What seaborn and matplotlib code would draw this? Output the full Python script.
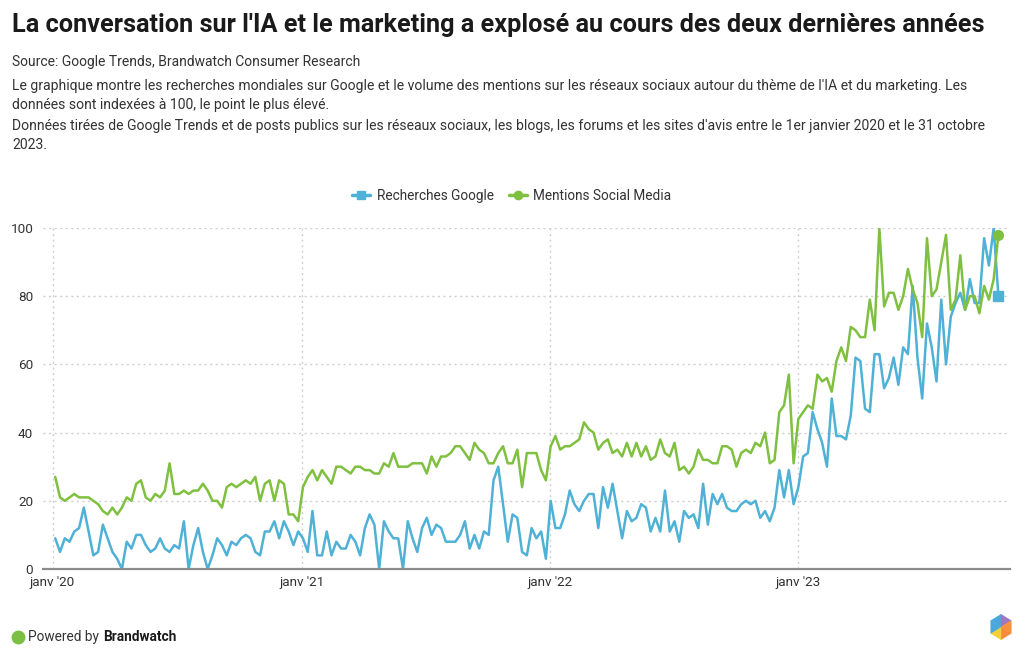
import pandas as pd
import numpy as np
import matplotlib
matplotlib.use('Agg')
import matplotlib.pyplot as plt
import matplotlib.dates as mdates
from matplotlib.patches import Polygon
import seaborn as sns

# weekly index values (jan 2020 -> oct 2023)
google_2020 = [9, 5, 9, 8, 11, 12, 18, 11, 4, 5, 13, 9, 5, 3, 0, 8, 6, 10, 10, 7,
               5, 6, 9, 6, 5, 7, 6, 14, 0, 7, 12, 5, 0, 4, 9, 7, 4, 8, 7, 9,
               10, 9, 5, 4, 11, 11, 14, 9, 14, 11, 7, 11]
google_2021 = [9, 5, 17, 4, 4, 11, 4, 8, 6, 6, 10, 8, 4, 12, 16, 13, 0, 14, 11, 9,
               9, 0, 14, 9, 5, 12, 15, 10, 13, 12, 8, 8, 8, 10, 14, 6, 10, 6, 11, 10,
               26, 30, 19, 8, 16, 15, 5, 4, 12, 9, 11, 3]
google_2022 = [20, 12, 12, 16, 23, 19, 17, 20, 22, 22, 12, 24, 18, 25, 17, 9, 17, 14, 15, 19,
               18, 11, 15, 11, 23, 11, 14, 8, 17, 15, 16, 12, 25, 13, 22, 19, 22, 18, 17, 17,
               19, 20, 19, 20, 15, 17, 14, 18, 29, 21, 29, 19]
google_2023 = [24, 33, 34, 46, 41, 37, 30, 50, 39, 39, 38, 45, 62, 61, 47, 46, 63, 63, 53, 56,
               62, 54, 65, 63, 83, 62, 50, 72, 65, 55, 79, 60, 74, 78, 81, 76, 85, 78, 78, 97,
               89, 100, 80]

social_2020 = [27, 21, 20, 21, 22, 21, 21, 21, 20, 19, 17, 16, 18, 16, 18, 21, 20, 25, 26, 21,
               20, 22, 21, 23, 31, 22, 22, 23, 22, 23, 23, 25, 23, 20, 20, 18, 24, 25, 24, 25,
               26, 25, 27, 20, 25, 26, 20, 26, 25, 16, 16, 14]
social_2021 = [24, 27, 29, 26, 29, 27, 25, 30, 30, 29, 28, 30, 30, 29, 29, 28, 28, 31, 30, 34,
               30, 30, 30, 31, 31, 31, 28, 33, 30, 33, 33, 34, 36, 36, 34, 32, 37, 35, 34, 31,
               31, 34, 36, 31, 31, 35, 24, 34, 34, 34, 29, 26]
social_2022 = [36, 39, 35, 36, 36, 37, 38, 43, 41, 40, 35, 37, 38, 34, 35, 33, 37, 33, 37, 33,
               36, 32, 33, 38, 34, 33, 37, 29, 30, 28, 30, 35, 32, 32, 31, 31, 36, 36, 35, 30,
               34, 35, 34, 37, 36, 40, 31, 32, 46, 48, 57, 31]
social_2023 = [44, 46, 48, 47, 57, 55, 56, 52, 61, 65, 61, 71, 70, 68, 68, 79, 70, 100, 77, 81,
               81, 76, 80, 88, 82, 78, 68, 97, 80, 82, 90, 98, 76, 79, 92, 76, 80, 80, 75, 83,
               79, 85, 98]

series_names = ['Recherches Google', 'Mentions Social Media']
tick_years = ['2020-01-01', '2021-01-01', '2022-01-01', '2023-01-01']
tick_labels = ["janv '20", "janv '21", "janv '22", "janv '23"]

google = google_2020 + google_2021 + google_2022 + google_2023
social = social_2020 + social_2021 + social_2022 + social_2023
dates = pd.date_range('2020-01-05', periods=len(google), freq='7D')

df = pd.DataFrame({'date': dates, series_names[0]: google, series_names[1]: social})
long_df = df.melt(id_vars='date', var_name='serie', value_name='valeur')

BLUE = '#4fb1d6'
GREEN = '#80c041'
TEXT = '#333333'

sns.set_theme(style='white')
plt.rcParams['font.family'] = ['Roboto', 'DejaVu Sans']

fig = plt.figure(figsize=(10.24, 6.63), dpi=100)
ax = fig.add_axes([43 / 1024, 94 / 663, 967 / 1024, 341 / 663])

sns.lineplot(data=long_df, x='date', y='valeur', hue='serie',
             palette={series_names[0]: BLUE, series_names[1]: GREEN},
             linewidth=1.8, legend=False, ax=ax)

# end markers
ax.plot(df['date'].iloc[-1], google[-1], marker='s', color=BLUE, markersize=6.5, clip_on=False, zorder=5)
ax.plot(df['date'].iloc[-1], social[-1], marker='o', color=GREEN, markersize=7, clip_on=False, zorder=5)

ax.set_ylim(0, 100)
ax.set_xlim(pd.Timestamp('2019-12-18'), pd.Timestamp('2023-11-08'))
ax.set_yticks([0, 20, 40, 60, 80, 100])
ax.set_xticks(pd.to_datetime(tick_years))
ax.set_xticklabels(tick_labels)
ax.tick_params(axis='both', length=0, labelsize=9.7, labelcolor=TEXT)
ax.tick_params(axis='y', pad=7)
ax.tick_params(axis='x', pad=5)
ax.set_xlabel('')
ax.set_ylabel('')

ax.grid(True, axis='both', linestyle=(0, (1.5, 2.5)), color='#cfcfcf', linewidth=1)
for s in ['top', 'right', 'left']:
    ax.spines[s].set_visible(False)
ax.spines['bottom'].set_color('#8c8c8c')
ax.spines['bottom'].set_linewidth(1.6)
ax.set_axisbelow(True)

# legend above the chart
handles = [
    plt.Line2D([], [], color=BLUE, marker='s', markersize=6, linewidth=2.5),
    plt.Line2D([], [], color=GREEN, marker='o', markersize=6, linewidth=2.5),
]
fig.legend(handles, series_names, loc='center', bbox_to_anchor=(0.5, 1 - 196 / 663),
           ncol=2, frameon=False, fontsize=9.8, handlelength=1.3, handletextpad=0.5,
           columnspacing=1.1, labelcolor=TEXT)

# header texts
def fy(px):
    return 1 - px / 663

fig.text(12 / 1024, fy(25), "La conversation sur l'IA et le marketing a explosé au cours des deux dernières années",
         fontsize=18.2, fontweight='bold', color='#1a1a1a', va='center')
fig.text(12 / 1024, fy(62), "Source: Google Trends, Brandwatch Consumer Research",
         fontsize=10, color=TEXT, va='center')
desc = [
    "Le graphique montre les recherches mondiales sur Google et le volume des mentions sur les réseaux sociaux autour du thème de l'IA et du marketing. Les",
    "données sont indexées à 100, le point le plus élevé.",
    "Données tirées de Google Trends et de posts publics sur les réseaux sociaux, les blogs, les forums et les sites d'avis entre le 1er janvier 2020 et le 31 octobre",
    "2023.",
]
for line, ypx in zip(desc, [86, 105, 126, 145]):
    fig.text(12 / 1024, fy(ypx), line, fontsize=10.05, color=TEXT, va='center')

# footer
fig.add_artist(plt.Line2D([18 / 1024], [fy(637)], marker='o', markersize=9,
                          color='#7cbf45', transform=fig.transFigure))
fig.text(28 / 1024, fy(637), "Powered by", fontsize=9.8, color=TEXT, va='center')
fig.text(103 / 1024, fy(637), "Brandwatch", fontsize=9.8, color='#1a1a1a', fontweight='bold', va='center')

# small hexagon logo
lax = fig.add_axes([988 / 1024, 22 / 663, 26 / 1024, 28 / 663])
lax.set_xlim(-1.1, 1.1)
lax.set_ylim(-1.1, 1.1)
lax.axis('off')
angles = np.deg2rad([150, 90, 30, -30, -90, -150, 150])
vx, vy = np.cos(angles), np.sin(angles)
wedge_colors = ['#4aa7dc', '#9b78c0', '#f7923a', '#f48a3c', '#f6cf36', '#4aa7dc']
for i, c in enumerate(wedge_colors):
    lax.add_patch(Polygon([(0, 0), (vx[i], vy[i]), (vx[i + 1], vy[i + 1])], closed=True,
                          facecolor=c, edgecolor=c, linewidth=0.3))

fig.savefig('out.png', dpi=100, facecolor='white')
